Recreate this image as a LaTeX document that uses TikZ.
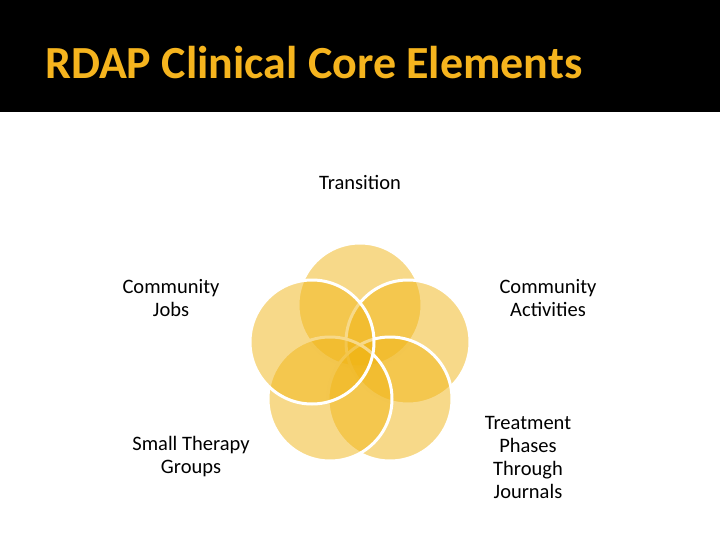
\documentclass[tikz,border=0pt]{standalone}
\usepackage{fontspec}
\setmainfont{Carlito}
\begin{document}
\begin{tikzpicture}[x=1pt,y=-1pt,
  lbl/.style={font=\fontsize{20.5}{23}\selectfont,align=center,text=black},
  petal/.style={circle,minimum size=124pt,inner sep=0,fill={rgb,255:red,240;green,180;blue,20},fill opacity=0.5,draw=white,line width=3pt}]
\useasboundingbox (0,0) rectangle (720,540);
\fill[black] (0,0) rectangle (720,112);
\node[anchor=west,inner sep=0,font=\bfseries\fontsize{46}{50}\selectfont,text={rgb,255:red,245;green,180;blue,30}] (title) at (45,63) {RDAP Clinical Core Elements};
\node[petal] (c1) at (360,305) {};
\node[petal] (c2) at (408,342) {};
\node[petal] (c3) at (390,399) {};
\node[petal] (c4) at (330,399) {};
\node[petal] (c5) at (312,342) {};
\node[lbl] (t1) at (360,182) {Transition};
\node[lbl] (t2) at (548,298) {Community\\Activities};
\node[lbl] (t3) at (528,457) {Treatment\\Phases\\Through\\Journals};
\node[lbl] (t4) at (191,457) {Small Therapy\\Groups};
\node[lbl] (t5) at (171,298) {Community\\Jobs};
\end{tikzpicture}
\end{document}
